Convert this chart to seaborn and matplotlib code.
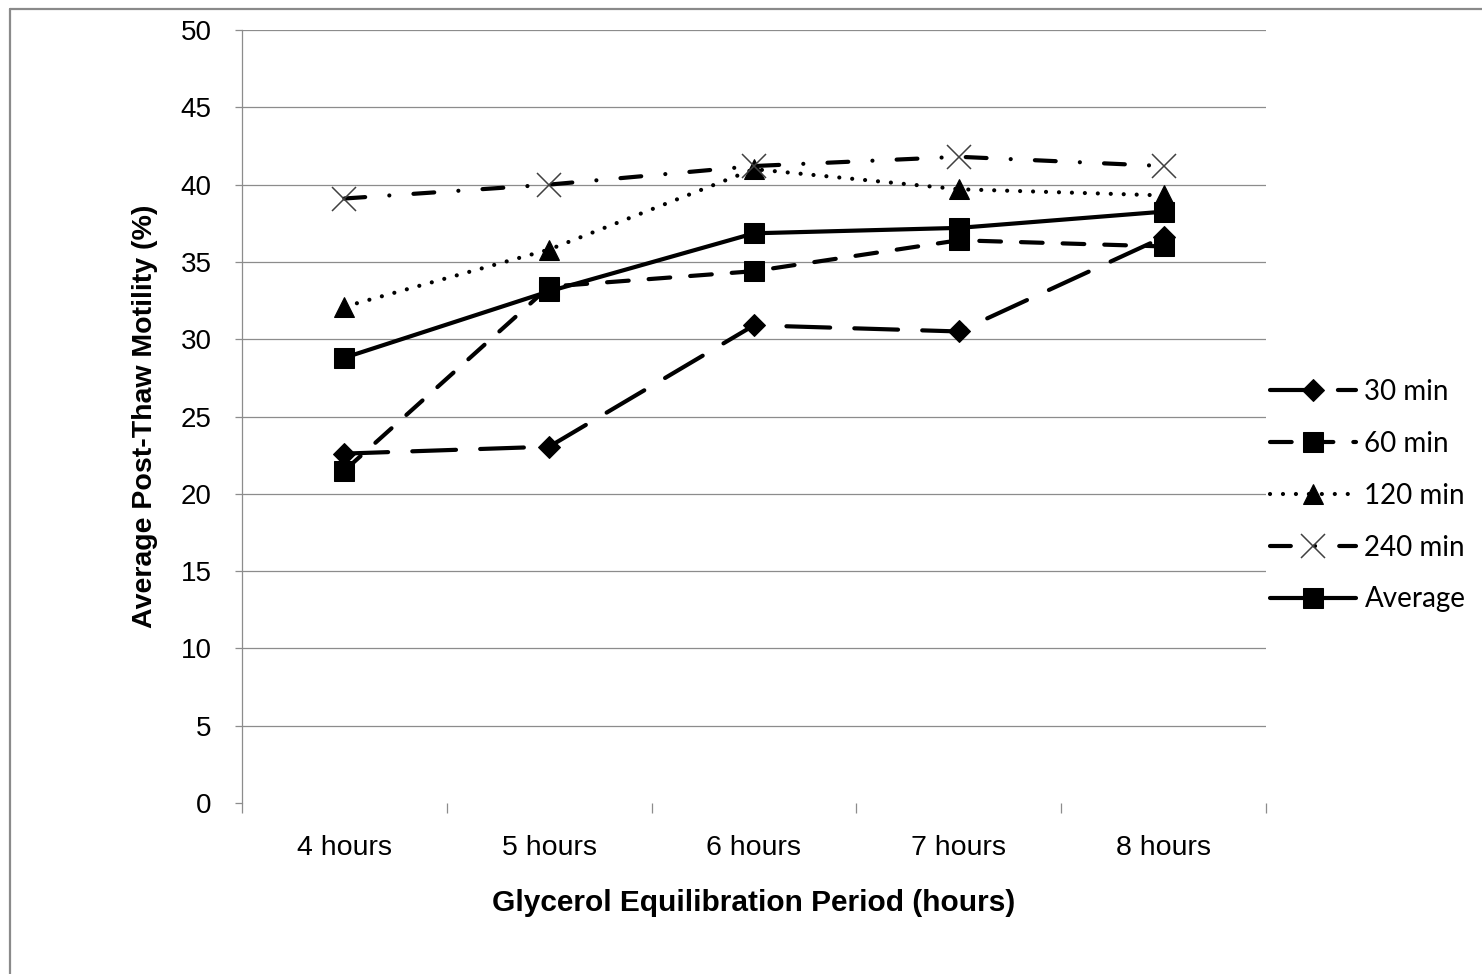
import numpy as np
import pandas as pd
import matplotlib
matplotlib.use("Agg")
import matplotlib.pyplot as plt
from matplotlib.lines import Line2D
from matplotlib.ticker import FixedLocator
import seaborn as sns

# Glycerol equilibration period (x categories)
periods = ["4 hours", "5 hours", "6 hours", "7 hours", "8 hours"]

# Average post-thaw motility (%) for each cooling interval
motility_30 = [22.6, 23.05, 30.9, 30.5, 36.6]
motility_60 = [21.5, 33.4, 34.4, 36.4, 36.0]
motility_120 = [32.1, 35.8, 41.0, 39.7, 39.3]
motility_240 = [39.1, 40.0, 41.2, 41.8, 41.2]
motility_avg = [28.8, 33.1, 36.85, 37.2, 38.25]

series_names = ["30 min", "60 min", "120 min", "240 min", "Average"]
y_ticks = list(range(0, 51, 5))

df = pd.DataFrame({
    "period": periods * 5,
    "motility": motility_30 + motility_60 + motility_120 + motility_240 + motility_avg,
    "series": np.repeat(series_names, len(periods)),
})

sns.set_theme(style="white")
plt.rcParams["font.family"] = ["Liberation Sans", "DejaVu Sans"]
plt.rcParams["text.color"] = "black"
plt.rcParams["axes.labelcolor"] = "black"

W, H = 1482, 974
fig = plt.figure(figsize=(W / 100, H / 100), dpi=100)
fig.patch.set_facecolor("white")

# outer chart-area border (top and left edges only)
border_col = "#8a8a8a"
fig.add_artist(Line2D([10 / W, 1.0], [1 - 9 / H, 1 - 9 / H], transform=fig.transFigure,
                      color=border_col, lw=1.6))
fig.add_artist(Line2D([10 / W, 10 / W], [0.0, 1 - 9 / H], transform=fig.transFigure,
                      color=border_col, lw=1.6))

ax = fig.add_axes([242 / W, 1 - 803 / H, (1266 - 242) / W, (803 - 30) / H])

LW = 3.0
styles = {
    "30 min": dict(linestyle=(0, (10.5, 5.8)), marker="D", markersize=11,
                   markerfacecolor="black", markeredgecolor="black"),
    "60 min": dict(linestyle=(0, (5.2, 4.8)), marker="s", markersize=15,
                   markerfacecolor="black", markeredgecolor="black"),
    "120 min": dict(linestyle=(0, (0.01, 3.1)), marker="^", markersize=15,
                    markerfacecolor="black", markeredgecolor="black"),
    "240 min": dict(linestyle=(0, (5.0, 5.8, 0.01, 5.8)), marker="x", markersize=17,
                    markeredgewidth=1.1, markeredgecolor="#404040"),
    "Average": dict(linestyle="-", marker="s", markersize=15,
                    markerfacecolor="black", markeredgecolor="black"),
}

for i, name in enumerate(series_names):
    sub = df[df["series"] == name]
    sns.lineplot(data=sub, x="period", y="motility", ax=ax, sort=False,
                 color="black", lw=LW, dash_capstyle="round",
                 solid_capstyle="round", label=name, zorder=3 + i,
                 **styles[name])

ax.set_xlim(-0.5, len(periods) - 0.5)
ax.set_ylim(0, 50)
ax.set_yticks(y_ticks)
ax.set_yticklabels([str(t) for t in y_ticks])

# horizontal gridlines (none along the zero line)
grid_col = "#8c8c8c"
ax.yaxis.grid(True, color=grid_col, lw=0.9)
ax.xaxis.grid(False)
ax.set_axisbelow(True)
ax.yaxis.get_major_ticks()[0].gridline.set_visible(False)

for side in ["top", "right", "bottom"]:
    ax.spines[side].set_visible(False)
ax.spines["left"].set_color(grid_col)
ax.spines["left"].set_linewidth(0.9)

# category tick marks sit between groups
ax.xaxis.set_minor_locator(FixedLocator(np.arange(-0.5, len(periods), 1.0)))
ax.tick_params(axis="x", which="minor", length=7, width=0.9, color=grid_col,
               direction="out", bottom=True)
ax.tick_params(axis="x", which="major", length=0, pad=23, labelsize=20.5,
               labelcolor="black")
ax.tick_params(axis="y", which="major", length=5, width=0.9, color=grid_col,
               direction="out", left=True, pad=17, labelsize=20,
               labelcolor="black")

ax.set_xlabel("Glycerol Equilibration Period (hours)", fontsize=21.5,
              fontweight="bold", labelpad=20, color="black")
ax.set_ylabel("Average Post-Thaw Motility (%)", fontsize=20.5,
              fontweight="bold", labelpad=16, color="black")

leg = ax.legend(loc="upper left", bbox_to_anchor=(1270 / W, 1 - 379 / H),
                bbox_transform=fig.transFigure, frameon=False,
                prop={"family": ["Lato", "DejaVu Sans"], "size": 20},
                handlelength=3.1, handletextpad=0.3, labelspacing=0.93,
                borderpad=0, borderaxespad=0, numpoints=1)
for t in leg.get_texts():
    t.set_color("black")

fig.savefig("out.png", dpi=100, facecolor="white")
